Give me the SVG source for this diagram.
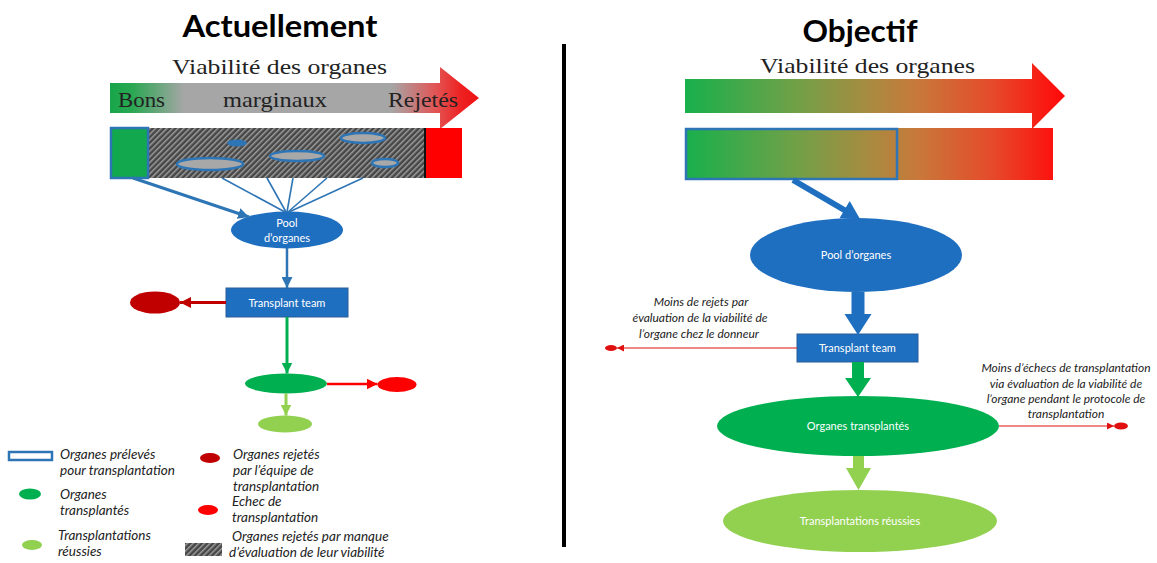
<svg xmlns="http://www.w3.org/2000/svg" width="1157" height="563" viewBox="0 0 1157 563">
<style>
.title{font-family:Lato,"Open Sans","Liberation Sans",sans-serif;font-weight:bold;fill:#000;text-anchor:middle}
.serif{font-family:"Liberation Serif","DejaVu Serif",serif;fill:#222}
.node{font-family:Lato,"Open Sans","Liberation Sans",sans-serif;font-size:11px;fill:#fff;text-anchor:middle}
.leg{font-family:Lato,"Open Sans","Liberation Sans",sans-serif;font-style:italic;font-size:13.5px;fill:#222}
.ann{font-family:Lato,"Open Sans","Liberation Sans",sans-serif;font-style:italic;font-size:12px;fill:#222;text-anchor:middle}
.blue{fill:#1f6fc0}
.bl{stroke:#2e75b6;fill:none}
</style>
<defs>
<linearGradient id="gL" gradientUnits="userSpaceOnUse" x1="110" y1="0" x2="480" y2="0">
<stop offset="0" stop-color="#17a64a"/>
<stop offset="0.06" stop-color="#2aa752"/>
<stop offset="0.2" stop-color="#a6a6a6"/>
<stop offset="0.76" stop-color="#a6a6a6"/>
<stop offset="0.88" stop-color="#e25555"/>
<stop offset="0.95" stop-color="#ee2020"/>
<stop offset="1" stop-color="#ee1111"/>
</linearGradient>
<linearGradient id="gR" gradientUnits="userSpaceOnUse" x1="685" y1="0" x2="1062" y2="0">
<stop offset="0" stop-color="#18b04c"/>
<stop offset="0.3" stop-color="#72a047"/>
<stop offset="0.5" stop-color="#ab893f"/>
<stop offset="0.62" stop-color="#c8783a"/>
<stop offset="0.82" stop-color="#e6492a"/>
<stop offset="1" stop-color="#ff0a0a"/>
</linearGradient>
<pattern id="hatch" patternUnits="userSpaceOnUse" width="4" height="4" patternTransform="rotate(45)">
<rect width="4" height="4" fill="#464646"/>
<rect width="1.5" height="4" fill="#9c9c9c"/>
</pattern>
<marker id="aBlue" viewBox="0 0 10 10" refX="10" refY="5" markerUnits="userSpaceOnUse" markerWidth="11" markerHeight="11" orient="auto"><path d="M0,0 L10,5 L0,10 z" fill="#2e75b6"/></marker>
<marker id="aDred" viewBox="0 0 10 10" refX="10" refY="5" markerUnits="userSpaceOnUse" markerWidth="11" markerHeight="11" orient="auto"><path d="M0,0 L10,5 L0,10 z" fill="#c00000"/></marker>
<marker id="aGreen" viewBox="0 0 10 10" refX="10" refY="5" markerUnits="userSpaceOnUse" markerWidth="11" markerHeight="11" orient="auto"><path d="M0,0 L10,5 L0,10 z" fill="#00b050"/></marker>
<marker id="aRed" viewBox="0 0 10 10" refX="10" refY="5" markerUnits="userSpaceOnUse" markerWidth="11" markerHeight="11" orient="auto"><path d="M0,0 L10,5 L0,10 z" fill="#ff0000"/></marker>
<marker id="aLgreen" viewBox="0 0 10 10" refX="10" refY="5" markerUnits="userSpaceOnUse" markerWidth="11" markerHeight="11" orient="auto"><path d="M0,0 L10,5 L0,10 z" fill="#92d050"/></marker>
<marker id="aRedS" viewBox="0 0 10 10" refX="10" refY="5" markerUnits="userSpaceOnUse" markerWidth="7" markerHeight="7" orient="auto"><path d="M0,0 L10,5 L0,10 z" fill="#e01010"/></marker>
</defs>
<rect width="1157" height="563" fill="#fff"/>

<!-- Titles -->
<text class="title" x="280" y="37" font-size="31" textLength="195" lengthAdjust="spacingAndGlyphs">Actuellement</text>
<text class="title" x="860" y="42" font-size="31" textLength="115" lengthAdjust="spacingAndGlyphs">Objectif</text>

<!-- Divider -->
<line x1="564" y1="44" x2="564" y2="547" stroke="#000" stroke-width="4"/>

<!-- LEFT: viability arrow -->
<g id="left-viability">
<text class="serif" x="172" y="74" font-size="21" textLength="215" lengthAdjust="spacingAndGlyphs">Viabilité des organes</text>
<path d="M110,83 H440 V67 L479,98 L440,129 V113 H110 Z" fill="url(#gL)"/>
<text class="serif" x="118" y="107" font-size="21" textLength="47" lengthAdjust="spacingAndGlyphs">Bons</text>
<text class="serif" x="223" y="107" font-size="21" textLength="104" lengthAdjust="spacingAndGlyphs">marginaux</text>
<text class="serif" x="388" y="107" font-size="21" textLength="70" lengthAdjust="spacingAndGlyphs">Rejetés</text>
</g>

<!-- LEFT: organ bar -->
<g id="left-bar">
<rect x="149" y="128" width="277" height="50" fill="url(#hatch)"/>
<rect x="111" y="128" width="37" height="50" fill="#11a84e" stroke="#2e75b6" stroke-width="2.5"/>
<rect x="426" y="128" width="36" height="50" fill="#ff0000"/>
<line x1="425" y1="128" x2="425" y2="178" stroke="#111" stroke-width="2"/>
<ellipse cx="237" cy="143" rx="10" ry="3.5" fill="#2e75b6"/>
<ellipse cx="210" cy="164" rx="33" ry="6" fill="#a8a8a8" stroke="#2e75b6" stroke-width="2.5"/>
<ellipse cx="297" cy="156" rx="27" ry="5" fill="#a8a8a8" stroke="#2e75b6" stroke-width="2.5"/>
<ellipse cx="363" cy="138" rx="22" ry="5" fill="#a8a8a8" stroke="#2e75b6" stroke-width="2.5"/>
<ellipse cx="385" cy="163" rx="13" ry="4" fill="#a8a8a8" stroke="#2e75b6" stroke-width="2.5"/>
</g>

<!-- LEFT nodes -->
<g id="left-pool">
<ellipse cx="287" cy="230" rx="56" ry="18.5" class="blue"/>
<text class="node" x="287" y="227">Pool</text>
<text class="node" x="287" y="242">d’organes</text>
</g>
<g id="left-team">
<rect x="226" y="288" width="122" height="29" class="blue" stroke="#2a5d96" stroke-width="1"/>
<text class="node" x="287" y="306.5">Transplant team</text>
</g>
<g id="left-rejected"><ellipse cx="155" cy="302.5" rx="25" ry="11" fill="#c00000"/></g>
<g id="left-transplanted"><ellipse cx="286" cy="383.5" rx="41" ry="10" fill="#00b050"/></g>
<g id="left-failure"><ellipse cx="397" cy="384.5" rx="19.5" ry="7.5" fill="#ff0000"/></g>
<g id="left-success"><ellipse cx="285" cy="424" rx="27" ry="8.5" fill="#92d050"/></g>

<!-- LEFT connectors -->
<g id="left-connectors">
<line x1="133" y1="178" x2="249" y2="217" stroke="#2e75b6" stroke-width="3" marker-end="url(#aBlue)"/>
<g class="bl" stroke-width="1.6">
<line x1="222" y1="178" x2="285" y2="212"/>
<line x1="267" y1="178" x2="286" y2="212"/>
<line x1="293" y1="178" x2="287" y2="212"/>
<line x1="327" y1="178" x2="288" y2="212"/>
<line x1="363" y1="178" x2="289" y2="212"/>
</g>
<line x1="287" y1="248" x2="287" y2="288" stroke="#2e75b6" stroke-width="2.5" marker-end="url(#aBlue)"/>
<line x1="226" y1="302.5" x2="180" y2="302.5" stroke="#c00000" stroke-width="3" marker-end="url(#aDred)"/>
<line x1="287" y1="317" x2="287" y2="373.5" stroke="#00b050" stroke-width="3" marker-end="url(#aGreen)"/>
<line x1="327" y1="384" x2="377.5" y2="384" stroke="#ff0000" stroke-width="2.5" marker-end="url(#aRed)"/>
<line x1="286" y1="393.5" x2="286" y2="415.5" stroke="#92d050" stroke-width="3" marker-end="url(#aLgreen)"/>
</g>

<!-- LEGEND -->
<g id="legend">
<rect x="9" y="452" width="43" height="8" fill="#fff" stroke="#2e75b6" stroke-width="2.5"/>
<text class="leg" x="60" y="459">Organes prélevés</text>
<text class="leg" x="60" y="475">pour transplantation</text>
<ellipse cx="30" cy="494" rx="11" ry="5.5" fill="#00b050"/>
<text class="leg" x="60" y="499">Organes</text>
<text class="leg" x="60" y="515">transplantés</text>
<ellipse cx="32" cy="545" rx="10" ry="5" fill="#92d050"/>
<text class="leg" x="58" y="540">Transplantations</text>
<text class="leg" x="58" y="556">réussies</text>
<ellipse cx="210" cy="458" rx="10" ry="5" fill="#c00000"/>
<text class="leg" x="233" y="459">Organes rejetés</text>
<text class="leg" x="233" y="475">par l’équipe de</text>
<text class="leg" x="233" y="491">transplantation</text>
<ellipse cx="208" cy="510" rx="10" ry="5" fill="#ff0000"/>
<text class="leg" x="232" y="506">Echec de</text>
<text class="leg" x="232" y="522">transplantation</text>
<rect x="185" y="543" width="37" height="13" fill="url(#hatch)"/>
<text class="leg" x="232" y="541">Organes rejetés par manque</text>
<text class="leg" x="229" y="557">d’évaluation de leur viabilité</text>
</g>

<!-- RIGHT: viability arrow -->
<g id="right-viability">
<text class="serif" x="760" y="73" font-size="21" textLength="215" lengthAdjust="spacingAndGlyphs">Viabilité des organes</text>
<path d="M685,79 H1032 V63 L1065,96 L1032,129 V113 H685 Z" fill="url(#gR)"/>
</g>
<g id="right-bar">
<rect x="685" y="128" width="368" height="52" fill="url(#gR)"/>
<rect x="686" y="129" width="211" height="50" fill="none" stroke="#2e75b6" stroke-width="2.5"/>
</g>

<!-- RIGHT nodes -->
<g id="right-pool">
<ellipse cx="856" cy="255" rx="106" ry="37" class="blue"/>
<text class="node" x="856" y="258.5">Pool d’organes</text>
</g>
<g id="right-team">
<rect x="797" y="334" width="121" height="28" class="blue" stroke="#2a5d96" stroke-width="1"/>
<text class="node" x="857.5" y="352">Transplant team</text>
</g>
<g id="right-transplanted">
<ellipse cx="858" cy="426" rx="141" ry="30" fill="#00b050"/>
<text class="node" x="858" y="429.5">Organes transplantés</text>
</g>
<g id="right-success">
<ellipse cx="860" cy="521" rx="137" ry="31" fill="#92d050"/>
<text class="node" x="860" y="525">Transplantations réussies</text>
</g>
<g id="right-rejected"><ellipse cx="611" cy="348" rx="6" ry="3" fill="#e01010"/></g>
<g id="right-failure"><ellipse cx="1121" cy="426" rx="7" ry="3.5" fill="#e01010"/></g>

<!-- RIGHT annotations -->
<g id="right-notes">
<text class="ann" x="701" y="306">Moins de rejets par</text>
<text class="ann" x="700" y="322">évaluation de la viabilité de</text>
<text class="ann" x="699" y="338">l’organe chez le donneur</text>
<text class="ann" x="1066" y="372" font-size="12.8">Moins d’échecs de transplantation</text>
<text class="ann" x="1066" y="388" font-size="12.8">via évaluation de la viabilité de</text>
<text class="ann" x="1066" y="403" font-size="12.8">l’organe pendant le protocole de</text>
<text class="ann" x="1066" y="418" font-size="12.8">transplantation</text>
</g>

<!-- RIGHT connectors -->
<g id="right-connectors">
<line x1="793" y1="180" x2="846" y2="211" stroke="#1f6fc0" stroke-width="6"/>
<polygon points="860,219 839.5,218.3 849.7,201.1" fill="#1f6fc0"/>
<polygon points="851.5,292 864.5,292 864.5,314 871.5,314 858,335 844.5,314 851.5,314" fill="#1f6fc0"/>
<polygon points="852,362 864,362 864,378 871,378 858,397 845,378 852,378" fill="#00b050"/>
<polygon points="853,456 864,456 864,468 871,468 858.5,490 846,468 853,468" fill="#92d050"/>
<line x1="797" y1="348" x2="617" y2="348" stroke="#e01010" stroke-width="1.2" marker-end="url(#aRedS)"/>
<line x1="999" y1="426" x2="1114" y2="426" stroke="#e01010" stroke-width="1.2" marker-end="url(#aRedS)"/>
</g>
</svg>
